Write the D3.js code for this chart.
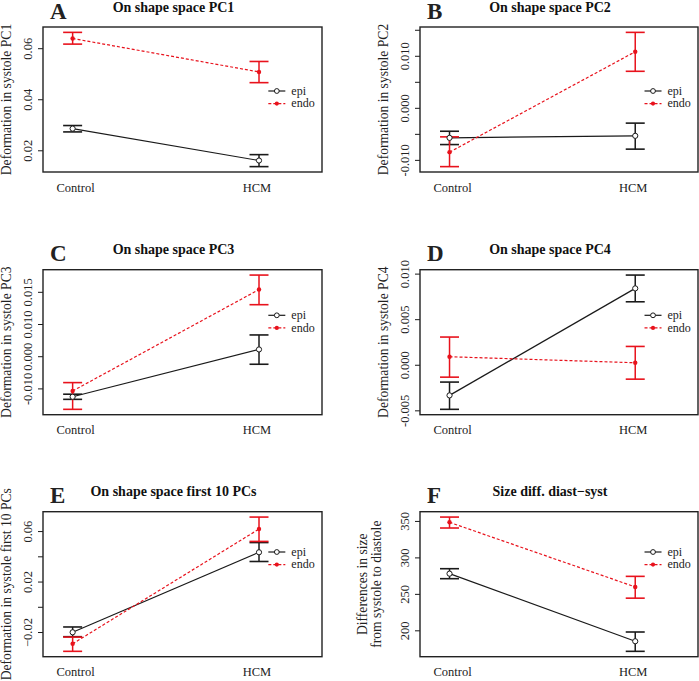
<!DOCTYPE html>
<html>
<head>
<meta charset="utf-8">
<script src="https://cdnjs.cloudflare.com/ajax/libs/d3/7.8.5/d3.min.js"></script>
<style>
  body { margin: 0; background: #fff; }
  svg text { font-family: "Liberation Serif", "Times New Roman", serif; }
</style>
</head>
<body>
<div id="chart-area"></div>
<script>
// Data (mean and error bar ends, Control / HCM)
var groups = ["Control", "HCM"];
var letters = ["A", "B", "C", "D", "E", "F"];
var titles = ["On shape space PC1", "On shape space PC2", "On shape space PC3",
              "On shape space PC4", "On shape space first 10 PCs", "Size diff. diast\u2212syst"];
var yTitles = [["Deformation in systole PC1"], ["Deformation in systole PC2"],
               ["Deformation in systole PC3"], ["Deformation in systole PC4"],
               ["Deformation in systole first 10 PCs"],
               ["Differences in size", "from systole to diastole"]];

var epiMean = [[0.0285, 0.0160], [-0.00577, -0.00538], [-0.0126, 0.0021],
               [-0.00336, 0.00838], [-0.0202, 0.0432], [277.7, 185.0]];
var epiLow  = [[0.0272, 0.0136], [-0.00706, -0.00794], [-0.0134, -0.0025],
               [-0.00489, 0.00691], [-0.0237, 0.0359], [270.8, 171.2]];
var epiHigh = [[0.0297, 0.0183], [-0.00450, -0.00294], [-0.0118, 0.0066],
               [-0.00190, 0.00984], [-0.0160, 0.0509], [284.5, 197.7]];

var endoMean = [[0.0638, 0.0507], [-0.00852, 0.01078], [-0.0108, 0.0207],
                [0.00088, 0.00022], [-0.0293, 0.0616], [348.1, 259.5]];
var endoLow  = [[0.0616, 0.0465], [-0.0113, 0.00702], [-0.0165, 0.0160],
                [-0.00136, -0.00158], [-0.0353, 0.0518], [340.3, 244.1]];
var endoHigh = [[0.0662, 0.0548], [-0.00558, 0.0145], [-0.0082, 0.0252],
                [0.00304, 0.00201], [-0.0240, 0.0711], [355.3, 274.0]];

var yTicks = [[0.02, 0.04, 0.06],
              [-0.010, -0.005, 0, 0.005, 0.010, 0.015],
              [-0.010, 0, 0.010, 0.020],
              [-0.005, 0, 0.005, 0.010],
              [-0.02, 0, 0.02, 0.04, 0.06],
              [200, 250, 300, 350]];
var yTickLabels = [["0.02", "0.04", "0.06"],
                   ["-0.010", "", "0.000", "", "0.010", ""],
                   ["-0.010", "0.000", "0.010", "0.015"],
                   ["-0.005", "0.000", "0.005", "0.010"],
                   ["\u22120.02", "", "0.02", "", "0.06"],
                   ["200", "250", "300", "350"]];

var seriesNames = ["epi", "endo"];

// Layout
var width = 699, height = 681;
var cols = [{ left: 43, right: 322 }, { left: 420, right: 698 }];
var rows = [{ top: 27, bottom: 172 }, { top: 269.7, bottom: 414.7 }, { top: 511.7, bottom: 656.7 }];
var legendDy = [64, 64, 45.6, 45.6, 40.3, 40.3];
var red = "#e8121c", black = "#1a1a1a";

var svg = d3.select("#chart-area")
    .append("svg")
        .attr("width", width)
        .attr("height", height);

letters.forEach(function(letter, i) {
    var c = cols[i % 2], r = rows[Math.floor(i / 2)];
    var g = svg.append("g");

    var x = d3.scaleLinear()
        .domain([0.841, 2.338])
        .range([c.left, c.right]);

    var lo = d3.min(epiLow[i].concat(endoLow[i]));
    var hi = d3.max(epiHigh[i].concat(endoHigh[i]));
    var pad = (hi - lo) * 0.04;
    var y = d3.scaleLinear()
        .domain([lo - pad, hi + pad])
        .range([r.bottom, r.top]);

    // Y Axis (labels parallel to axis, R style)
    var yAxisCall = d3.axisLeft(y)
        .tickValues(yTicks[i])
        .tickSize(5)
        .tickFormat(function(d, j) { return yTickLabels[i][j]; });
    var ax = g.append("g")
        .attr("transform", "translate(" + c.left + ",0)")
        .call(yAxisCall);
    ax.select(".domain").remove();
    ax.selectAll("line").attr("stroke", black).attr("stroke-width", 1);
    ax.selectAll("text")
        .attr("x", null)
        .attr("dy", null)
        .attr("transform", "translate(-11.5,0) rotate(-90)")
        .attr("text-anchor", "middle")
        .attr("font-size", "12.5px")
        .attr("font-family", "Liberation Serif, serif")
        .attr("fill", "#222");

    // X labels
    groups.forEach(function(grp, j) {
        g.append("text")
            .attr("x", x(j + 1) + (j === 0 ? 3 : -2))
            .attr("y", r.bottom + 19.5)
            .attr("font-size", "12.5px")
            .attr("text-anchor", "middle")
            .attr("fill", "#222")
            .text(grp);
    });

    // Y title
    var yt = yTitles[i];
    var cy = (r.top + r.bottom) / 2;
    yt.forEach(function(line, k) {
        var bx = c.left - (yt.length === 1 ? 32 : 39 + (yt.length - 1 - k) * 14);
        g.append("text")
            .attr("transform", "translate(" + bx + "," + cy + ") rotate(-90)")
            .attr("text-anchor", "middle")
            .attr("font-size", "13.6px")
            .attr("fill", "#222")
            .text(line);
    });

    // Title and panel letter
    g.append("text")
        .attr("x", (c.left + c.right) / 2 - 9)
        .attr("y", r.top - 15.5)
        .attr("font-size", "14px")
        .attr("font-weight", "bold")
        .attr("text-anchor", "middle")
        .attr("fill", "#111")
        .text(titles[i]);
    g.append("text")
        .attr("x", c.left + 7)
        .attr("y", r.top - 8.5)
        .attr("font-size", "23px")
        .attr("font-weight", "bold")
        .attr("fill", "#222")
        .text(letter);

    var series = [
        { name: "epi", mean: epiMean[i], low: epiLow[i], high: epiHigh[i], color: black, dash: null },
        { name: "endo", mean: endoMean[i], low: endoLow[i], high: endoHigh[i], color: red, dash: "3,2" }
    ];

    // Lines
    series.forEach(function(s) {
        var line = d3.line()
            .x(function(d, j) { return x(j + 1); })
            .y(function(d) { return y(d); });
        g.append("path")
            .datum(s.mean)
            .attr("d", line)
            .attr("fill", "none")
            .attr("stroke", s.color)
            .attr("stroke-width", 1.2)
            .attr("stroke-dasharray", s.dash);
    });

    // Error bars
    series.forEach(function(s) {
        s.mean.forEach(function(m, j) {
            var px = x(j + 1);
            g.append("line")
                .attr("x1", px).attr("x2", px)
                .attr("y1", y(s.low[j])).attr("y2", y(s.high[j]))
                .attr("stroke", s.color).attr("stroke-width", 1.5);
            [s.low[j], s.high[j]].forEach(function(v) {
                g.append("line")
                    .attr("x1", px - 9.5).attr("x2", px + 9.5)
                    .attr("y1", y(v)).attr("y2", y(v))
                    .attr("stroke", s.color).attr("stroke-width", 1.6);
            });
        });
    });

    // Points
    series.forEach(function(s) {
        g.selectAll(null)
            .data(s.mean)
            .enter()
            .append("circle")
                .attr("cx", function(d, j) { return x(j + 1); })
                .attr("cy", function(d) { return y(d); })
                .attr("r", s.name === "epi" ? 2.6 : 2.2)
                .attr("fill", s.name === "epi" ? "#fff" : red)
                .attr("stroke", s.name === "epi" ? black : "none")
                .attr("stroke-width", 1);
    });

    // Box
    g.append("rect")
        .attr("x", c.left).attr("y", r.top)
        .attr("width", c.right - c.left).attr("height", r.bottom - r.top)
        .attr("fill", "none")
        .attr("stroke", "#222")
        .attr("stroke-width", 1.4);

    // Legend
    var lx = x(2.05);
    series.forEach(function(s, k) {
        var ly = r.top + legendDy[i] + k * 12.6;
        g.append("line")
            .attr("x1", lx).attr("x2", lx + 17)
            .attr("y1", ly).attr("y2", ly)
            .attr("stroke", s.color).attr("stroke-width", 1.2)
            .attr("stroke-dasharray", s.dash);
        g.append("circle")
            .attr("cx", lx + 8.5).attr("cy", ly)
            .attr("r", s.name === "epi" ? 2.4 : 2.1)
            .attr("fill", s.name === "epi" ? "#fff" : red)
            .attr("stroke", s.name === "epi" ? black : "none");
        g.append("text")
            .attr("x", lx + 23)
            .attr("y", ly)
            .attr("dy", "0.32em")
            .attr("font-size", "12px")
            .attr("fill", "#222")
            .text(seriesNames[k]);
    });
});
</script>
</body>
</html>
